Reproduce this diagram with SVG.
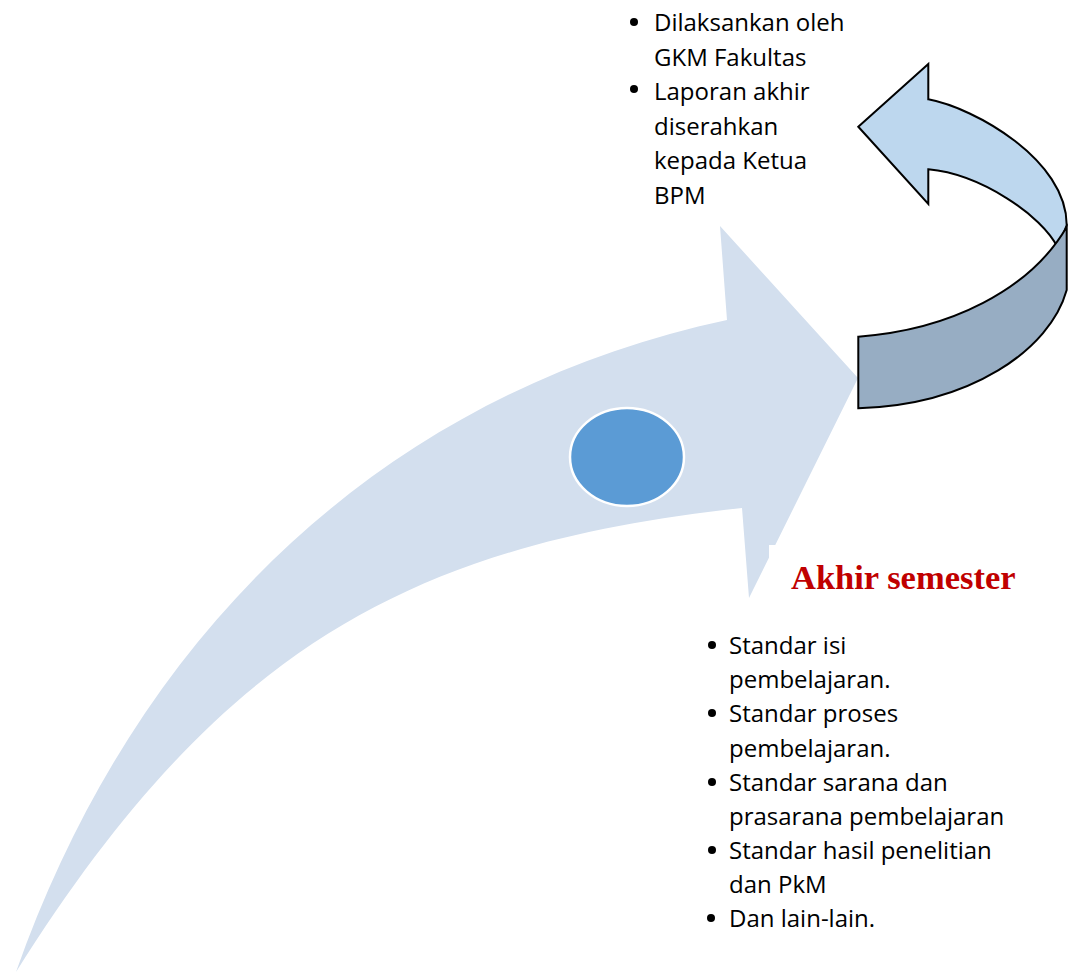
<svg xmlns="http://www.w3.org/2000/svg" width="1074" height="973" viewBox="0 0 1074 973">
<style>
.body{font-family:"Open Sans","Liberation Sans",sans-serif;font-size:24px;fill:#000}
.title{font-family:"Liberation Serif","Times New Roman",serif;font-size:34.5px;font-weight:bold;fill:#C00000}
.bul{fill:#000}
.ribbon{stroke:#000;stroke-width:2;stroke-linejoin:miter}
</style>
<rect width="1074" height="973" fill="#fff"/>
<g id="big-arrow">
<path fill="#D3DFEE" d="M16,972 C142,615 400,390 727,320 L720,226 L858,378 L749,598 L742,508 C412,544 221,646 16,972 Z"/>
<rect x="769" y="545" width="80" height="60" fill="#fff"/>
</g>
<g id="circle-node">
<ellipse cx="627" cy="457" rx="57" ry="49" fill="#5B9BD5" stroke="#fff" stroke-width="2.5"/>
</g>
<g id="curved-arrow">
<path class="ribbon" fill="#BDD7EE" d="M858.3,126.7 L928.3,64 L928.3,99.3 C975,108 1066.7,160 1066.7,225 L1058,248 C1042,215 980,174 928.3,169.3 L928.3,204 Z"/>
<path class="ribbon" fill="#97ADC3" d="M858.3,336.7 C950,330 1030,290 1066.7,227 L1066.7,290 C1050,350 970,405 858.3,408.3 Z"/>
</g>
<g id="top-list">
<circle class="bul" cx="634" cy="22" r="4"/>
<circle class="bul" cx="634" cy="89" r="4"/>
<text class="body" x="654" y="31">Dilaksankan oleh</text>
<text class="body" x="654" y="65.5">GKM Fakultas</text>
<text class="body" x="654" y="100">Laporan akhir</text>
<text class="body" x="654" y="134.5">diserahkan</text>
<text class="body" x="654" y="169">kepada Ketua</text>
<text class="body" x="654" y="203.5">BPM</text>
</g>
<g id="title">
<text class="title" x="791" y="589">Akhir semester</text>
</g>
<g id="bottom-list">
<circle class="bul" cx="712" cy="645" r="4"/>
<circle class="bul" cx="712" cy="713" r="4"/>
<circle class="bul" cx="712" cy="782" r="4"/>
<circle class="bul" cx="712" cy="850" r="4"/>
<circle class="bul" cx="711" cy="918" r="4"/>
<text class="body" x="729" y="654">Standar isi</text>
<text class="body" x="729" y="688">pembelajaran.</text>
<text class="body" x="729" y="722">Standar proses</text>
<text class="body" x="729" y="757">pembelajaran.</text>
<text class="body" x="729" y="791">Standar sarana dan</text>
<text class="body" x="729" y="825">prasarana pembelajaran</text>
<text class="body" x="729" y="859">Standar hasil penelitian</text>
<text class="body" x="729" y="893">dan PkM</text>
<text class="body" x="729" y="927">Dan lain-lain.</text>
</g>
<g id="connectors"></g>
</svg>
